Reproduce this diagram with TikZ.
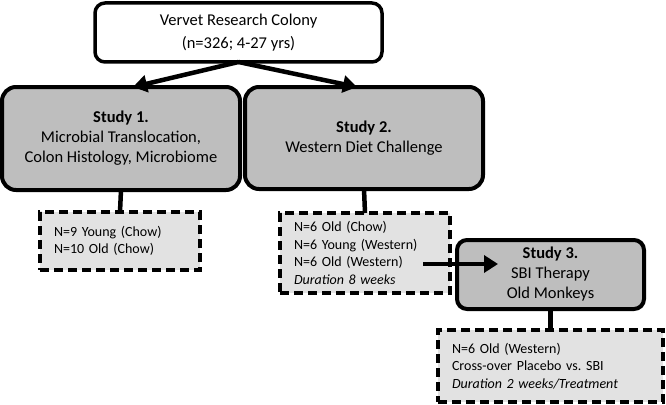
\documentclass[tikz,border=0pt]{standalone}
\usepackage{fontspec}
\setmainfont{Carlito}
\usepackage{xcolor}
\usepackage{tikz}
\usetikzlibrary{arrows.meta}
\frenchspacing

\definecolor{studygray}{RGB}{190,190,190}
\definecolor{groupgray}{RGB}{226,226,226}

\tikzset{
  colonybox/.style={draw, line width=3.5pt, rounded corners=10pt, fill=white, align=center,
    inner sep=0pt, outer sep=0pt, font=\fontsize{16.5}{23}\selectfont},
  studybox/.style={draw, line width=4pt, rounded corners=14pt, fill=studygray, align=center,
    inner sep=0pt, outer sep=0pt, font=\fontsize{16.5}{20}\selectfont},
  groupbox/.style={draw, line width=3.5pt, dash pattern=on 9pt off 5pt, fill=groupgray, align=left,
    inner xsep=14pt, inner ysep=0pt, outer sep=0pt, font=\fontsize{14}{17.5}\selectfont},
  link/.style={line width=4.5pt},
  arr/.style={line width=4.5pt, -{Triangle[length=14pt,width=17pt]}}
}

\begin{document}
\begin{tikzpicture}[x=1pt,y=-1pt]
\useasboundingbox (0,0) rectangle (666,404);

\node[colonybox, minimum width=287pt, minimum height=59pt] (colony) at (238.5,32.5)
  {Vervet Research Colony\\(n=326; 4-27 yrs)};

\node[studybox, minimum width=238pt, minimum height=103pt] (study1) at (121,138.5)
  {\textbf{Study 1.}\\Microbial Translocation,\\Colon Histology, Microbiome};
\node[studybox, minimum width=238pt, minimum height=102pt] (study2) at (364,138)
  {\textbf{Study 2.}\\Western Diet Challenge};
\node[studybox, rounded corners=10pt, minimum width=187pt, minimum height=69pt] (study3) at (550.5,274.5)
  {\textbf{Study 3.}\\SBI Therapy\\Old Monkeys};

\node[groupbox, text width=132pt, minimum height=58pt] (group1) at (120,241)
  {N=9 Young (Chow)\\N=10 Old (Chow)};
\node[groupbox, text width=142pt, minimum height=80pt] (group2) at (365,253)
  {N=6 Old (Chow)\\N=6 Young (Western)\\N=6 Old (Western)\\\textit{Duration 8 weeks}};
\node[groupbox, text width=197pt, minimum height=72pt] (group3) at (550.5,366)
  {N=6 Old (Western)\\Cross-over Placebo vs.\ SBI\\\textit{Duration 2 weeks/Treatment}};

% colony to the two studies
\draw[arr] (colony.south) -- ([xshift=12pt]study1.north);
\draw[arr] (colony.south) -- ([xshift=-7pt]study2.north);

% studies to their groups
\draw[link] (study1.south) -- (group1.north);
\draw[link] (study2.south) -- (group2.north);
\draw[link] (study3.south) -- (group3.north);

% old western monkeys go on to study 3
\coordinate (oldwestern) at (423,264);
\coordinate (sbi) at (498,264);
\draw[arr] (oldwestern) -- (sbi);

\end{tikzpicture}
\end{document}
